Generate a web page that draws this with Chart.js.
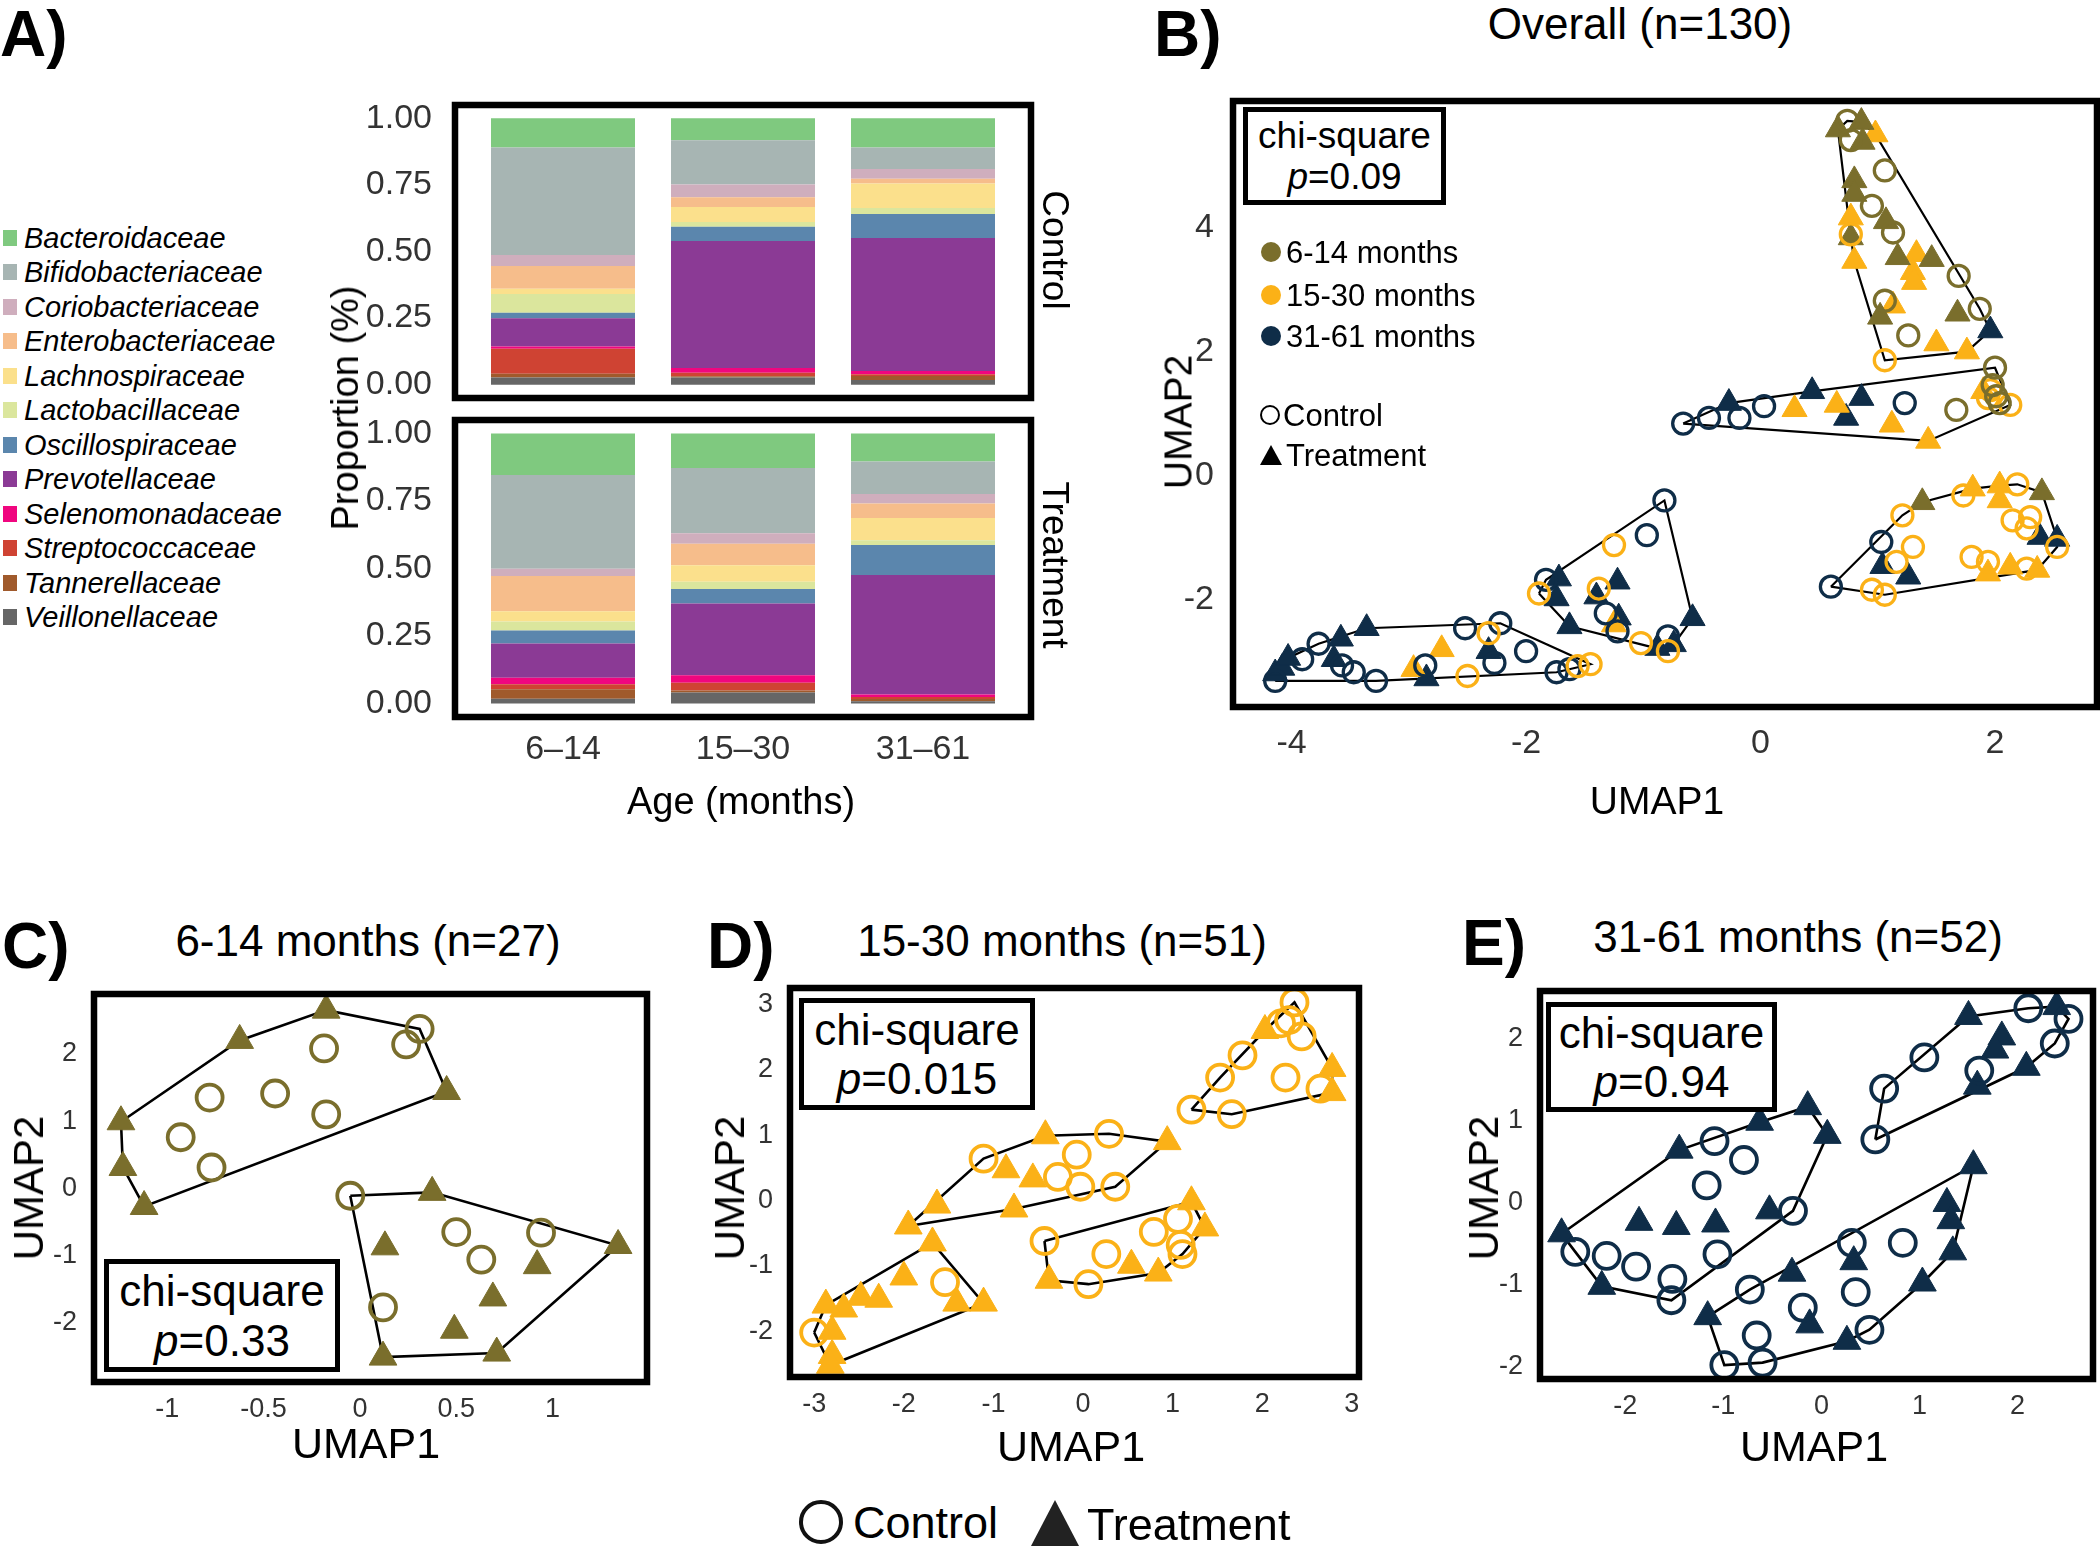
<!DOCTYPE html>
<html>
<head>
<meta charset="utf-8">
<script src="https://cdn.jsdelivr.net/npm/chart.js@4.4.1/dist/chart.umd.min.js"></script>
<style>
  body { margin: 0; background: #fff; }
  #fig { position: relative; width: 2100px; height: 1550px; background: #fff; overflow: hidden;
         font-family: "Liberation Sans", Arial, Helvetica, sans-serif; color: #000; }
  #fig canvas { position: absolute; }
  .t { position: absolute; white-space: nowrap; line-height: 1; }
  .box { position: absolute; box-sizing: border-box; border: 5px solid #000; background: #fff;
         display: flex; flex-direction: column; align-items: center; justify-content: center; line-height: 1.12; }
  .sw { position: absolute; }
</style>
</head>
<body>
<div id="fig"></div>
<script>
// ---------- data: panel A (relative abundance) ----------
const families = ["Bacteroidaceae", "Bifidobacteriaceae", "Coriobacteriaceae", "Enterobacteriaceae",
  "Lachnospiraceae", "Lactobacillaceae", "Oscillospiraceae", "Prevotellaceae",
  "Selenomonadaceae", "Streptococcaceae", "Tannerellaceae", "Veillonellaceae"];
const familyColors = ["#7fc97f", "#a7b5b3", "#cfaebd", "#f6bd8b", "#fbe08c", "#dbe69d",
  "#5b86ad", "#8b3a95", "#f0067f", "#cf4333", "#a05a2c", "#666666"];
const ageLabels = ["6–14", "15–30", "31–61"];
const propTicks = [0, 0.25, 0.5, 0.75, 1];
// one row per family, columns = age groups
const controlShare = [
  [0.110, 0.082, 0.110], [0.403, 0.166, 0.080], [0.041, 0.048, 0.037], [0.086, 0.037, 0.018],
  [0.020, 0.056, 0.092], [0.070, 0.018, 0.022], [0.021, 0.054, 0.090], [0.106, 0.476, 0.500],
  [0.008, 0.018, 0.012], [0.094, 0.013, 0.006], [0.014, 0.005, 0.015], [0.027, 0.027, 0.018]];
const treatShare = [
  [0.154, 0.128, 0.104], [0.347, 0.241, 0.120], [0.027, 0.039, 0.035], [0.130, 0.080, 0.054],
  [0.038, 0.061, 0.082], [0.034, 0.027, 0.018], [0.048, 0.054, 0.111], [0.127, 0.265, 0.443],
  [0.024, 0.028, 0.009], [0.018, 0.029, 0.007], [0.035, 0.007, 0.009], [0.018, 0.041, 0.008]];

// ---------- data: UMAP panels ----------
const ageGroups = ["6-14 months", "15-30 months", "31-61 months"];
const ageColors = ["#7a6e2c", "#fbb117", "#0f2d48"];
// B: [umap1, umap2, age group, treatment(1)/control(0), cluster]
const pointsB = [
  [0.66,5.58,0,1,0],[0.74,5.72,0,0,0],[0.86,5.70,0,1,0],[0.98,5.50,1,1,0],[0.77,5.41,0,0,0],
  [0.87,5.38,0,1,0],[1.06,4.92,0,0,0],[0.80,4.76,0,1,0],[0.80,4.54,0,1,0],[0.95,4.35,0,0,0],
  [1.07,4.10,0,1,0],[1.13,3.92,0,0,0],[0.77,4.16,1,1,0],[0.77,3.89,1,0,0],[0.77,3.84,0,1,0],
  [0.80,3.46,1,1,0],[1.17,3.52,0,1,0],[1.33,3.57,1,1,0],[1.46,3.49,0,1,0],[1.30,3.28,1,1,0],
  [1.31,3.12,1,1,0],[1.69,3.22,0,0,0],[1.06,2.82,0,0,0],[1.13,2.74,1,1,0],[1.02,2.56,0,1,0],
  [1.68,2.61,0,1,0],[1.87,2.69,0,0,0],[1.96,2.34,2,1,0],[1.26,2.26,0,0,0],[1.50,2.13,1,1,0],
  [1.76,2.00,1,1,0],[1.06,1.86,1,0,0],
  [-0.66,0.84,2,0,1],[-0.44,0.93,2,0,1],[-0.27,1.17,2,1,1],[-0.18,0.93,2,0,1],[0.03,1.12,2,0,1],
  [0.29,1.07,1,1,1],[0.44,1.36,2,1,1],[0.65,1.14,1,1,1],[0.73,0.93,2,1,1],[0.86,1.25,2,1,1],
  [1.23,1.17,2,0,1],[1.12,0.82,1,1,1],[1.43,0.56,1,1,1],[1.67,1.06,0,0,1],[1.96,1.38,1,0,1],
  [1.98,1.46,0,0,1],[2.01,1.28,0,0,1],[1.94,1.25,1,0,1],[2.04,1.17,0,0,1],[1.90,1.36,1,1,1],
  [2.00,1.74,0,0,1],[2.13,1.14,1,0,1],
  [-4.14,-3.19,2,1,2],[-4.08,-3.10,2,1,2],[-4.03,-2.94,2,1,2],[-4.14,-3.31,2,0,2],[-3.91,-2.96,2,0,2],
  [-3.77,-2.71,2,0,2],[-3.58,-2.63,2,1,2],[-3.64,-2.96,2,1,2],[-3.57,-3.06,2,0,2],[-3.47,-3.17,2,0,2],
  [-3.36,-2.46,2,1,2],[-3.28,-3.31,2,0,2],[-2.96,-3.12,1,1,2],[-2.86,-3.06,2,0,2],[-2.85,-3.27,2,1,2],
  [-2.72,-2.80,1,1,2],[-2.52,-2.46,2,0,2],[-2.32,-2.54,1,0,2],[-2.22,-2.38,2,0,2],[-2.32,-2.83,2,1,2],
  [-2.27,-3.02,2,0,2],[-2.50,-3.23,1,0,2],[-2.00,-2.83,2,0,2],[-1.74,-3.17,2,0,2],[-1.56,-3.07,1,0,2],
  [-1.63,-3.12,2,0,2],[-1.45,-3.04,1,0,2],
  [-0.82,-0.40,2,0,3],[-0.97,-0.96,2,0,3],[-1.25,-1.12,1,0,3],[-1.83,-1.68,2,0,3],[-1.72,-1.66,2,1,3],
  [-1.89,-1.90,1,0,3],[-1.74,-1.98,2,1,3],[-1.38,-1.82,1,0,3],[-1.22,-1.71,2,1,3],[-1.40,-1.95,2,1,3],
  [-1.32,-2.22,2,0,3],[-1.21,-2.29,2,1,3],[-1.25,-2.40,1,1,3],[-1.22,-2.51,2,0,3],[-1.63,-2.43,2,1,3],
  [-1.02,-2.70,1,0,3],[-0.58,-2.30,2,1,3],[-0.79,-2.59,2,0,3],[-0.88,-2.78,2,1,3],[-0.74,-2.72,2,1,3],
  [-0.79,-2.83,1,0,3],
  [0.60,-1.79,2,0,4],[1.03,-1.07,2,0,4],[1.04,-1.46,2,1,4],[1.26,-1.63,2,1,4],[1.16,-1.39,1,0,4],
  [1.30,-1.15,1,0,4],[0.95,-1.84,1,0,4],[1.06,-1.92,1,0,4],[1.21,-0.64,1,0,4],[1.38,-0.43,0,1,4],
  [1.73,-0.32,1,0,4],[1.81,-0.21,1,1,4],[2.04,-0.16,1,1,4],[2.19,-0.14,1,0,4],[2.04,-0.40,1,1,4],
  [2.40,-0.27,0,1,4],[2.15,-0.72,1,0,4],[2.30,-0.67,1,0,4],[2.27,-0.85,1,0,4],[2.38,-0.99,2,1,4],
  [2.53,-1.02,2,1,4],[2.53,-1.15,1,0,4],[1.80,-1.31,1,0,4],[1.94,-1.39,1,0,4],[1.94,-1.58,1,1,4],
  [2.13,-1.47,1,1,4],[2.27,-1.50,1,0,4],[2.36,-1.52,1,1,4]];
// C, D, E: [umap1, umap2, treatment(1)/control(0), cluster]
const pointsC = [
  [-0.175,2.65,1,0],[-0.624,2.20,1,0],[-0.186,2.08,0,0],[0.24,2.14,0,0],[0.31,2.37,0,0],
  [0.45,1.44,1,0],[-1.24,0.99,1,0],[-0.78,1.35,0,0],[-0.44,1.41,0,0],[-0.175,1.10,0,0],
  [-0.93,0.76,0,0],[-1.23,0.31,1,0],[-0.77,0.31,0,0],[-1.12,-0.27,1,0],
  [-0.05,-0.11,0,1],[0.375,-0.06,1,1],[0.50,-0.65,0,1],[0.94,-0.66,0,1],[1.34,-0.85,1,1],
  [0.13,-0.87,1,1],[0.63,-1.06,0,1],[0.92,-1.15,1,1],[0.69,-1.63,1,1],[0.12,-1.77,0,1],
  [0.49,-2.11,1,1],[0.12,-2.51,1,1],[0.71,-2.45,1,1]];
const pointsD = [
  [2.36,3.03,0,0],[2.21,2.71,0,0],[2.30,2.76,0,0],[2.03,2.60,1,0],[2.44,2.51,0,0],
  [1.78,2.22,0,0],[1.53,1.88,0,0],[2.26,1.88,0,0],[2.78,2.02,1,0],[2.65,1.71,0,0],
  [2.78,1.65,1,0],[1.21,1.39,0,0],[1.66,1.32,0,0],
  [-0.42,0.99,1,1],[0.29,1.02,0,1],[0.94,0.90,1,1],[-1.11,0.64,0,1],[-0.07,0.70,0,1],
  [-0.86,0.47,1,1],[-0.56,0.33,1,1],[-0.28,0.36,0,1],[-0.03,0.21,0,1],[0.36,0.21,0,1],
  [-1.63,-0.07,1,1],[-0.77,-0.13,1,1],[-1.95,-0.39,1,1],
  [1.21,-0.02,1,2],[1.06,-0.28,0,2],[0.79,-0.48,0,2],[1.36,-0.42,1,2],[-0.43,-0.62,0,2],
  [1.09,-0.68,0,2],[1.11,-0.82,0,2],[0.26,-0.82,0,2],[0.54,-0.99,1,2],[0.84,-1.11,1,2],
  [-0.38,-1.22,1,2],[0.06,-1.28,0,2],
  [-1.68,-0.65,1,3],[-2.00,-1.17,1,3],[-1.54,-1.25,0,3],[-2.48,-1.48,1,3],[-2.28,-1.51,1,3],
  [-2.67,-1.66,1,3],[-2.87,-1.60,1,3],[-1.41,-1.57,1,3],[-1.11,-1.57,1,3],[-3.00,-2.02,0,3],
  [-2.80,-2.00,1,3],[-2.80,-2.37,1,3],[-2.82,-2.52,1,3]];
const pointsE = [
  [1.50,2.27,1,0],[2.11,2.37,0,0],[2.40,2.39,1,0],[2.52,2.24,0,0],[1.84,2.02,1,0],
  [1.77,1.86,1,0],[2.38,1.94,0,0],[1.05,1.77,0,0],[1.61,1.61,0,0],[2.09,1.65,1,0],
  [1.59,1.42,1,0],[0.64,1.39,0,0],[0.55,0.77,0,0],
  [-0.14,1.17,1,1],[-0.63,0.98,1,1],[0.06,0.82,1,1],[-1.09,0.75,0,1],[-1.45,0.64,1,1],
  [-0.79,0.52,0,1],[-1.17,0.21,0,1],[-0.53,-0.10,1,1],[-0.29,-0.10,0,1],[-1.86,-0.24,1,1],
  [-1.48,-0.29,1,1],[-1.08,-0.26,1,1],[-2.65,-0.38,1,1],[-2.51,-0.60,0,1],[-2.19,-0.65,0,1],
  [-1.89,-0.78,0,1],[-1.06,-0.63,0,1],[-2.24,-1.02,1,1],[-1.52,-0.93,0,1],[-1.53,-1.19,0,1],
  [1.55,0.45,1,2],[1.28,-0.01,1,2],[1.32,-0.22,1,2],[0.31,-0.49,0,2],[0.83,-0.49,0,2],
  [1.34,-0.60,1,2],[0.33,-0.72,1,2],[-0.30,-0.86,1,2],[-0.73,-1.06,0,2],[0.35,-1.09,0,2],
  [1.03,-0.98,1,2],[-1.16,-1.39,1,2],[-0.19,-1.28,0,2],[-0.12,-1.49,1,2],[-0.66,-1.62,0,2],
  [0.49,-1.55,0,2],[0.26,-1.69,1,2],[-0.99,-1.98,0,2],[-0.60,-1.95,0,2]];

const bTicksX = [-4, -2, 0, 2], bTicksY = [-2, 0, 2, 4];
const cTicksX = [-1, -0.5, 0, 0.5, 1], cTicksY = [-2, -1, 0, 1, 2];
const dTicksX = [-3, -2, -1, 0, 1, 2, 3], dTicksY = [-2, -1, 0, 1, 2, 3];
const eTicksX = [-2, -1, 0, 1, 2], eTicksY = [-2, -1, 0, 1, 2];

// ---------- helpers ----------
const FONT = '"Liberation Sans", Arial, Helvetica, sans-serif';
Chart.defaults.font.family = FONT;
const fig = document.getElementById("fig");

Chart.register({
  id: "frame",
  afterDraw(chart, args, opts) {
    const { ctx, chartArea: a } = chart;
    ctx.save();
    ctx.lineWidth = opts.width || 6;
    ctx.strokeStyle = "#000";
    ctx.strokeRect(a.left, a.top, a.right - a.left, a.bottom - a.top);
    ctx.restore();
  }
});

function txt(html, x, y, size, o = {}) {
  const d = document.createElement("div");
  d.className = "t";
  d.innerHTML = html;
  d.style.left = x + "px";
  d.style.top = y + "px";
  d.style.fontSize = size + "px";
  if (o.bold) d.style.fontWeight = "bold";
  if (o.italic) d.style.fontStyle = "italic";
  if (o.color) d.style.color = o.color;
  const ax = o.left ? "0" : "-50%";
  d.style.transform = `translate(${ax},-50%)` + (o.rot ? ` rotate(${o.rot}deg)` : "");
  fig.appendChild(d);
  return d;
}

function chiBox(l, t, w, h, pval, size) {
  const d = document.createElement("div");
  d.className = "box";
  Object.assign(d.style, { left: l + "px", top: t + "px", width: w + "px", height: h + "px", fontSize: size + "px" });
  d.innerHTML = `<div>chi-square</div><div><i>p</i>=${pval}</div>`;
  fig.appendChild(d);
}

function axisOpts(min, max, ticks, fmt, size, pad, stacked) {
  return {
    type: "linear", min, max, stacked: !!stacked, offset: false,
    grid: { display: false }, border: { display: false },
    afterBuildTicks: (s) => { s.ticks = ticks.map((v) => ({ value: v })); },
    ticks: { autoSkip: false, maxRotation: 0, padding: pad, color: "#333",
             font: { size, lineHeight: 1 }, callback: fmt }
  };
}

// f = frame (chart area) in page pixels, yw / xh = room for the axes
function place(f, yw, xh, type, datasets, x, y) {
  const pad = 24;
  const c = document.createElement("canvas");
  const w = f.r - f.l + yw + 2 * pad, h = f.b - f.t + xh + 2 * pad;
  c.width = w; c.height = h;
  Object.assign(c.style, { left: (f.l - yw - pad) + "px", top: (f.t - pad) + "px", width: w + "px", height: h + "px" });
  fig.appendChild(c);
  x.afterFit = (s) => { s.height = xh; };
  y.afterFit = (s) => { s.width = yw; };
  return new Chart(c, {
    type,
    data: { datasets },
    options: {
      responsive: false, animation: false, devicePixelRatio: 1,
      layout: { padding: pad },
      plugins: { legend: { display: false }, tooltip: { enabled: false }, frame: { width: 6.5 } },
      scales: { x, y }
    }
  });
}

function hull(pts) {
  const p = pts.slice().sort((a, b) => a[0] - b[0] || a[1] - b[1]);
  const cross = (o, a, b) => (a[0] - o[0]) * (b[1] - o[1]) - (a[1] - o[1]) * (b[0] - o[0]);
  const lo = [], up = [];
  for (const q of p) { while (lo.length >= 2 && cross(lo[lo.length - 2], lo[lo.length - 1], q) <= 0) lo.pop(); lo.push(q); }
  for (const q of p.slice().reverse()) { while (up.length >= 2 && cross(up[up.length - 2], up[up.length - 1], q) <= 0) up.pop(); up.push(q); }
  lo.pop(); up.pop();
  const h = lo.concat(up);
  h.push(h[0]);
  return h.map((q) => ({ x: q[0], y: q[1] }));
}

// rows: [x, y, age, treat, cluster]
function umapSets(rows, rC, rT, bw, hw) {
  const sets = [];
  [...new Set(rows.map((r) => r[4]))].forEach((cl) => {
    sets.push({ data: hull(rows.filter((r) => r[4] === cl)), showLine: true, borderColor: "#000",
      borderWidth: hw, pointRadius: 0, fill: false, tension: 0, order: 5 });
  });
  [0, 1, 2].forEach((age) => {
    [0, 1].forEach((tr) => {
      const pts = rows.filter((r) => r[2] === age && r[3] === tr).map((r) => ({ x: r[0], y: r[1] }));
      if (!pts.length) return;
      const col = ageColors[age];
      sets.push({ data: pts, pointStyle: tr ? "triangle" : "circle", pointRadius: tr ? rT : rC,
        pointBackgroundColor: tr ? col : "rgba(0,0,0,0)", pointBorderColor: col,
        pointBorderWidth: tr ? 1 : bw, order: tr ? 1 : 0 });
    });
  });
  return sets;
}

const num = (v) => String(v);

// ---------- panel A ----------
txt("A)", 0, 34, 64, { left: true, bold: true });
families.forEach((name, i) => {
  const cy = 238 + i * 34.45;
  const s = document.createElement("div");
  s.className = "sw";
  Object.assign(s.style, { left: "3px", top: (cy - 8) + "px", width: "14px", height: "16px", background: familyColors[i] });
  fig.appendChild(s);
  txt(name, 24, cy, 29, { left: true, italic: true });
});

function barSets(share) {
  const sets = [];
  for (let i = families.length - 1; i >= 0; i--) {
    sets.push({ label: families[i], data: share[i].map((v, k) => ({ x: k + 1, y: v })),
      backgroundColor: familyColors[i], borderWidth: 0, barPercentage: 0.8, categoryPercentage: 1 });
  }
  return sets;
}
const ageFmt = (v) => ageLabels[v - 1];
const propFmt = (v) => v.toFixed(2);

const xCtrl = axisOpts(0.4, 3.6, [1, 2, 3], ageFmt, 34, 8, true);
xCtrl.ticks.display = false;
place({ l: 455, t: 97, r: 1031, b: 402 }, 90, 4, "bar", barSets(controlShare),
  xCtrl, axisOpts(-0.05, 1.05, propTicks, propFmt, 34, 15, true));
place({ l: 455, t: 412, r: 1031, b: 717 }, 90, 60, "bar", barSets(treatShare),
  axisOpts(0.4, 3.6, [1, 2, 3], ageFmt, 34, 8, true), axisOpts(-0.05, 1.05, propTicks, propFmt, 34, 15, true));

txt("Proportion (%)", 345, 408, 38, { rot: -90 });
txt("Age (months)", 741, 801, 38);
txt("Control", 1055, 250, 37, { rot: 90 });
txt("Treatment", 1055, 565, 37, { rot: 90 });

// ---------- panel B ----------
txt("B)", 1154, 34, 64, { left: true, bold: true });
txt("Overall (n=130)", 1640, 24, 44);
place({ l: 1233, t: 97, r: 2097, b: 707 }, 70, 60, "scatter", umapSets(pointsB, 10.5, 14.5, 3.3, 2.2),
  axisOpts(-4.5, 2.87, bTicksX, num, 34, 12), axisOpts(-3.73, 6.04, bTicksY, num, 34, 11));
txt("UMAP1", 1657, 800, 39);
txt("UMAP2", 1178, 422, 39, { rot: -90 });
chiBox(1243, 107, 203, 98, "0.09", 37);

ageGroups.forEach((g, i) => {
  const cy = [252, 295, 336][i];
  const s = document.createElement("div");
  s.className = "sw";
  Object.assign(s.style, { left: "1261px", top: (cy - 10) + "px", width: "20px", height: "20px", borderRadius: "50%", background: ageColors[i] });
  fig.appendChild(s);
  txt(g, 1286, cy, 31, { left: true });
});
{
  const o = document.createElement("div");
  o.className = "sw";
  Object.assign(o.style, { left: "1260px", top: "405px", width: "20px", height: "20px", boxSizing: "border-box", borderRadius: "50%", border: "2.5px solid #000" });
  fig.appendChild(o);
  txt("Control", 1283, 415, 31, { left: true });
  const tr = document.createElement("div");
  tr.className = "sw";
  Object.assign(tr.style, { left: "1260px", top: "445px", width: 0, height: 0, borderLeft: "11px solid transparent", borderRight: "11px solid transparent", borderBottom: "20px solid #000" });
  fig.appendChild(tr);
  txt("Treatment", 1286, 455, 31, { left: true });
}

// ---------- panels C, D, E ----------
const withAge = (rows, age) => rows.map((r) => [r[0], r[1], age, r[2], r[3]]);

txt("C)", 2, 946, 64, { left: true, bold: true });
txt("6-14 months (n=27)", 368, 941, 44);
place({ l: 94, t: 994, r: 647, b: 1382 }, 60, 45, "scatter", umapSets(withAge(pointsC, 0), 13, 16, 3.8, 2.6),
  axisOpts(-1.38, 1.49, cTicksX, num, 27, 6), axisOpts(-2.88, 2.89, cTicksY, num, 27, 9));
txt("UMAP1", 366, 1443, 43);
txt("UMAP2", 29, 1188, 42, { rot: -90 });
chiBox(104, 1259, 236, 113, "0.33", 44);

txt("D)", 707, 946, 64, { left: true, bold: true });
txt("15-30 months (n=51)", 1062, 941, 44);
place({ l: 790, t: 988, r: 1359, b: 1377 }, 60, 45, "scatter", umapSets(withAge(pointsD, 1), 13, 16, 3.8, 2.6),
  axisOpts(-3.27, 3.08, dTicksX, num, 27, 6), axisOpts(-2.7, 3.25, dTicksY, num, 27, 9));
txt("UMAP1", 1071, 1446, 43);
txt("UMAP2", 730, 1188, 42, { rot: -90 });
chiBox(799, 998, 236, 112, "0.015", 44);

txt("E)", 1462, 943, 64, { left: true, bold: true });
txt("31-61 months (n=52)", 1798, 937, 44);
place({ l: 1540, t: 991, r: 2093, b: 1379 }, 60, 45, "scatter", umapSets(withAge(pointsE, 2), 13, 16, 3.8, 2.6),
  axisOpts(-2.87, 2.77, eTicksX, num, 27, 6), axisOpts(-2.15, 2.58, eTicksY, num, 27, 9));
txt("UMAP1", 1814, 1446, 43);
txt("UMAP2", 1484, 1188, 42, { rot: -90 });
chiBox(1546, 1002, 231, 110, "0.94", 44);

// ---------- shared shape legend ----------
{
  const o = document.createElement("div");
  o.className = "sw";
  Object.assign(o.style, { left: "799px", top: "1500px", width: "44px", height: "44px", boxSizing: "border-box", borderRadius: "50%", border: "4px solid #111" });
  fig.appendChild(o);
  txt("Control", 853, 1522, 45, { left: true });
  const tr = document.createElement("div");
  tr.className = "sw";
  Object.assign(tr.style, { left: "1031px", top: "1500px", width: 0, height: 0, borderLeft: "24px solid transparent", borderRight: "24px solid transparent", borderBottom: "46px solid #222" });
  fig.appendChild(tr);
  txt("Treatment", 1087, 1524, 45, { left: true });
}
</script>
</body>
</html>
